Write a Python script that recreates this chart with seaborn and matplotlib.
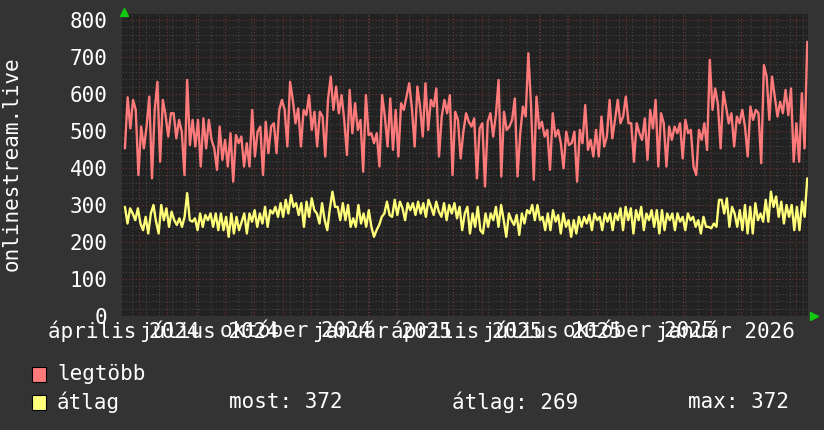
import numpy as np
import pandas as pd
import matplotlib
matplotlib.use("Agg")
import matplotlib.pyplot as plt
import matplotlib.dates as mdates
from matplotlib.patches import Rectangle
import seaborn as sns

# ---------------- data ----------------
legtobb = [453, 591, 507, 584, 557, 381, 512, 453, 512, 593, 372, 557, 633, 417, 584, 543, 485, 548,
           548, 480, 530, 498, 381, 638, 462, 530, 458, 530, 404, 534, 453, 530, 476, 453, 395, 512,
           422, 476, 404, 494, 363, 489, 467, 485, 404, 467, 404, 557, 431, 498, 512, 381, 525, 440,
           512, 521, 440, 557, 584, 557, 458, 633, 584, 521, 561, 458, 557, 543, 597, 503, 552, 458,
           552, 539, 431, 584, 647, 557, 620, 548, 597, 530, 435, 611, 494, 575, 503, 530, 390, 597,
           489, 494, 467, 494, 404, 597, 539, 458, 588, 449, 557, 431, 575, 557, 593, 629, 561, 458,
           620, 566, 485, 629, 503, 584, 566, 615, 431, 539, 584,
           548, 597, 381, 552, 530, 426, 498, 548, 525, 512, 534, 372, 507, 521, 350, 525, 548, 485,
           543, 638, 377, 552, 503, 512, 530, 588, 377, 494, 566, 539, 710, 566, 368, 593, 507, 525,
           485, 503, 395, 548, 485, 503, 467, 399, 498, 462, 467, 498, 363, 503, 467, 570, 449, 476,
           431, 503, 431, 539, 458, 485, 584, 480, 530, 584, 521, 539, 593, 521, 521, 417, 521, 494,
           476, 534, 422, 557, 507, 584, 404, 548, 521, 404, 512, 476, 512, 494, 521, 426, 530, 494,
           503, 404, 381, 503, 476, 521, 449, 692, 557, 615, 573, 453, 606, 566, 521, 548, 458, 539,
           521, 557, 512, 431, 566, 530, 557, 548, 413, 678, 647, 530, 647, 593, 539, 579, 548, 611,
           543, 615, 417, 521, 417, 602, 453, 741]

atlag = [295, 250, 291, 277, 259, 291, 250, 232, 268, 223, 277, 300, 255, 223, 300, 259, 291, 241,
         282, 259, 246, 264, 241, 268, 332, 259, 255, 264, 232, 277, 241, 273, 259, 277, 241, 277,
         232, 277, 232, 268, 214, 277, 223, 268, 232, 255, 277, 223, 277, 255, 286, 241, 277, 250,
         295, 241, 286, 277, 295, 268, 305, 268, 314, 277, 327, 295, 305, 273, 305, 241, 309, 268,
         318, 286, 277, 250, 305, 259, 232, 291, 336, 295, 295, 259, 305, 259, 300, 241, 264, 241,
         300, 250, 277, 241, 286, 241, 214, 232, 246, 268, 277, 309, 273, 268, 314, 273, 309, 291,
         259, 305, 286, 305, 273, 309, 277, 305, 268, 314, 295, 273, 309, 282, 268, 305, 259, 300,
         277, 305, 264,
         295, 232, 277, 295, 223, 277, 241, 295, 232, 223, 277, 241, 277, 259, 295, 241, 300, 259,
         214, 277, 259, 246, 273, 219, 277, 250, 286, 277, 300, 259, 300, 259, 268, 232, 277, 232,
         286, 255, 273, 223, 277, 241, 259, 214, 259, 223, 268, 241, 268, 250, 273, 232, 277, 259,
         268, 232, 277, 255, 277, 232, 277, 259, 291, 232, 295, 259, 291, 223, 286, 259, 295, 232,
         277, 259, 286, 241, 286, 223, 286, 232, 277, 259, 277, 232, 277, 255, 268, 232, 277, 259,
         268, 241, 259, 223, 268, 241, 241, 237, 250, 241, 314, 314, 277, 318, 241, 295, 277, 241,
         286, 232, 300, 223, 295, 223, 305, 259, 277, 255, 314, 255, 336, 295, 323, 268, 309, 250,
         300, 268, 300, 232, 295, 232, 309, 268, 372]

series_names = ["legtöbb", "átlag"]
label_texts = ["április 2024", "július 2024", "október 2024", "január 2025",
               "április 2025", "július 2025", "október 2025", "január 2026"]
label_months = ["2024-04-01", "2024-07-01", "2024-10-01", "2025-01-01",
                "2025-04-01", "2025-07-01", "2025-10-01", "2026-01-01"]
y_ticks = [0, 100, 200, 300, 400, 500, 600, 700, 800]
stat_names = ["most", "átlag", "max"]
stat_values = [372, 269, 372]
y_title = "onlinestream.live"
data_start, data_end = "2024-03-17", "2026-03-13"

# ---------------- style ----------------
sns.set_style("dark")
plt.rcParams["font.family"] = ["DejaVu Sans Mono", "DejaVu Sans"]
FS = 15
BG = "#333333"
CANVAS = "#222222"
RED = "#ff7a7a"
YEL = "#ffff7a"
W, H = 824, 430

fig = plt.figure(figsize=(W / 100, H / 100), dpi=100, facecolor=BG)
ax = fig.add_axes([122 / W, (H - 316) / H, (808 - 122) / W, (316 - 14) / H])
ax.set_facecolor(CANVAS)

df_r = pd.DataFrame({"t": pd.date_range(data_start, data_end, periods=len(legtobb)), "v": legtobb})
df_y = pd.DataFrame({"t": pd.date_range(data_start, data_end, periods=len(atlag)), "v": atlag})

sns.lineplot(data=df_r, x="t", y="v", color=RED, lw=1.7, ax=ax, zorder=3)
sns.lineplot(data=df_y, x="t", y="v", color=YEL, lw=1.7, ax=ax, zorder=3)

apr1 = pd.Timestamp("2024-04-01")
mar1 = pd.Timestamp("2026-03-01")
ax.set_xlim(apr1 - pd.Timedelta(days=18.1), mar1 + pd.Timedelta(days=12.8))
ax.set_ylim(0, 800 * 302 / 296)

# grids
ax.xaxis.set_major_locator(mdates.MonthLocator())
minor_x = pd.date_range("2024-03-25", "2026-03-14", freq="14D")
ax.set_xticks(minor_x, minor=True)
ax.set_yticks(y_ticks)
ax.set_yticks(np.arange(0, 801, 20), minor=True)
ax.set_axisbelow(True)
ax.grid(which="minor", color="#484848", ls=(0, (1, 2)), lw=0.8)
ax.grid(which="major", color="#773333", ls=(0, (1, 2)), lw=0.8)
ax.tick_params(which="both", length=0)
ax.tick_params(axis="x", labelbottom=False)
ax.tick_params(axis="y", labelsize=FS, labelcolor="white", pad=10.5)
ax.set_xlabel("")
ax.set_ylabel("")
for s in ax.spines.values():
    s.set_visible(False)

# x labels (RRD style, overlapping)
for txt, m in zip(label_texts, label_months):
    pos = pd.Timestamp(m) - pd.Timedelta(days=16)
    ax.text(mdates.date2num(pos), (316 - 331) / 302, txt, transform=ax.get_xaxis_transform(),
            ha="center", va="center", color="white", fontsize=FS, clip_on=False)

# arrows
ax.plot([0.003], [1.0 + 2 / 302], marker="^", color="#11cc11", ms=6, transform=ax.transAxes,
        clip_on=False, zorder=5)
ax.plot([1.0 + 6 / 686], [0.0], marker=">", color="#11cc11", ms=6, transform=ax.transAxes,
        clip_on=False, zorder=5)

# y title
fig.text(12 / W, 1 - 164 / H, y_title, rotation=90, ha="center", va="center",
         color="white", fontsize=FS)

# legend
for i, (name, col) in enumerate(zip(series_names, [RED, YEL])):
    yc = 374 + 28 * i
    fig.patches.append(Rectangle((32 / W, 1 - (yc + 8) / H), 14 / W, 15 / H, facecolor=col,
                                 edgecolor="black", lw=0.8, transform=fig.transFigure))
    fig.text(57 / W, 1 - yc / H, name, ha="left", va="center", color="white", fontsize=FS)

stat_x = [229, 452, 688]
for sx, n, v in zip(stat_x, stat_names, stat_values):
    fig.text(sx / W, 1 - 402 / H, f"{n}: {v}", ha="left", va="center", color="white", fontsize=FS)

fig.savefig("out.png", dpi=100, facecolor=BG)
